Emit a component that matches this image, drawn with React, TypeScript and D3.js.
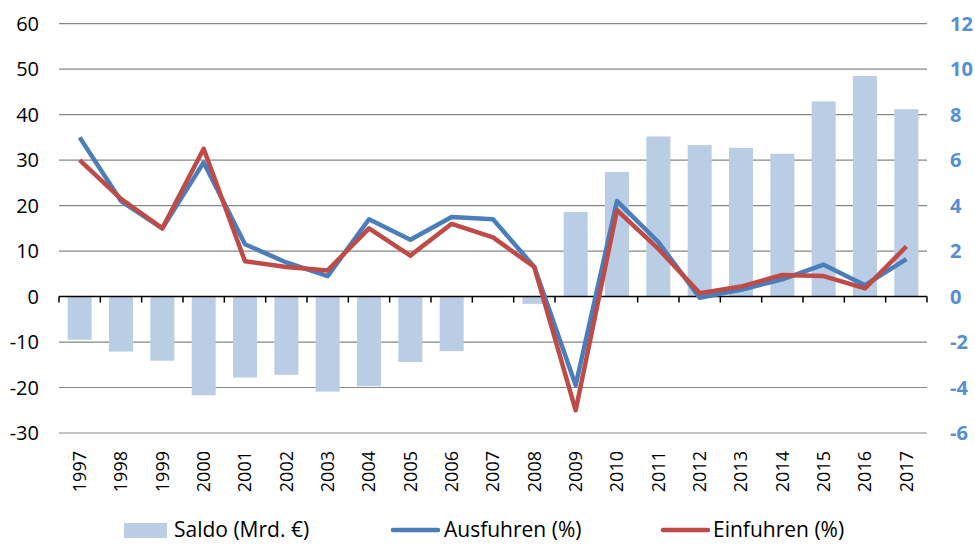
import React from 'react';
import * as d3 from 'd3';

const years = ['1997','1998','1999','2000','2001','2002','2003','2004','2005','2006','2007','2008','2009','2010','2011','2012','2013','2014','2015','2016','2017'];
const saldo = [-9.5,-12.1,-14.1,-21.7,-17.8,-17.2,-20.9,-19.7,-14.4,-12.0,-0.2,-1.6,18.6,27.4,35.2,33.3,32.7,31.4,42.9,48.5,41.2];
const ausfuhren = [7.0,4.2,3.0,5.9,2.3,1.5,0.9,3.4,2.5,3.5,3.4,1.3,-3.9,4.2,2.4,-0.05,0.3,0.76,1.4,0.5,1.65];
const einfuhren = [6.0,4.3,3.0,6.5,1.55,1.3,1.15,3.0,1.8,3.2,2.6,1.3,-5.0,3.8,2.1,0.15,0.44,0.95,0.9,0.36,2.2];
const leftTicks = [-30,-20,-10,0,10,20,30,40,50,60];
const rightTicks = [-6,-4,-2,0,2,4,6,8,10,12];

const W = 975, H = 545;
const x0 = 59, x1 = 927, yTop = 23.7, yBot = 433;
const font = '"Open Sans", "Noto Sans", sans-serif';

const App = () => {
    const x = d3.scaleBand().domain(years).range([x0, x1]).paddingInner(0.42).paddingOuter(0.21);
    const yL = d3.scaleLinear().domain([-30, 60]).range([yBot, yTop]);
    const yR = d3.scaleLinear().domain([-6, 12]).range([yBot, yTop]);
    const cx = (y) => (x(y) || 0) + x.bandwidth() / 2;

    const line = (vals) => d3.line().x((d, i) => cx(years[i])).y((d) => yR(d))(vals);

    const boundaries = d3.range(years.length + 1).map((i) => x0 + i * ((x1 - x0) / years.length));
    const ly = 530;

    return (
        <svg width={W} height={H} style={{ position: 'absolute', left: 0, top: 0, background: '#fff' }}>
            {leftTicks.filter((t) => t !== 0).map((t) => (
                <line key={'g' + t} x1={x0} x2={x1} y1={yL(t)} y2={yL(t)} stroke="#868686" strokeWidth={1.2} />
            ))}
            {saldo.map((v, i) => (
                <rect key={'b' + i} x={x(years[i])} width={x.bandwidth()}
                    y={Math.min(yL(v), yL(0))} height={Math.abs(yL(v) - yL(0))} fill="#b9cde5" />
            ))}
            <line x1={x0} x2={x1} y1={yL(0)} y2={yL(0)} stroke="#000" strokeWidth={1.5} />
            {boundaries.map((b, i) => (
                <line key={'t' + i} x1={b} x2={b} y1={yL(0)} y2={yL(0) + 6} stroke="#000" strokeWidth={1.5} />
            ))}
            <path d={line(ausfuhren)} fill="none" stroke="#4a7ebb" strokeWidth={4.5} strokeLinejoin="round" />
            <path d={line(einfuhren)} fill="none" stroke="#be4b48" strokeWidth={4.5} strokeLinejoin="round" />
            {leftTicks.map((t) => (
                <text key={'l' + t} x={39} y={yL(t)} dy="0.35em" textAnchor="end" fontFamily={font} fontSize={20} fill="#000">{t}</text>
            ))}
            {rightTicks.map((t) => (
                <text key={'r' + t} x={950} y={yR(t)} dy="0.35em" textAnchor="start" fontFamily={font} fontSize={20} fontWeight="bold" fill="#558ed5">{t}</text>
            ))}
            {years.map((yr) => (
                <text key={'x' + yr} transform={`translate(${cx(yr)},451) rotate(-90)`} dy="0.35em" textAnchor="end"
                    fontFamily={font} fontSize={18} fill="#000">{yr}</text>
            ))}
            <g fontFamily={font} fontSize={21} fill="#000">
                <rect x={124} y={ly - 7} width={43} height={15} fill="#b9cde5" />
                <text x={174} y={ly} dy="0.35em">Saldo (Mrd. €)</text>
                <line x1={393} x2={438} y1={ly} y2={ly} stroke="#4a7ebb" strokeWidth={4.5} strokeLinecap="round" />
                <text x={444} y={ly} dy="0.35em">Ausfuhren (%)</text>
                <line x1={663} x2={708} y1={ly} y2={ly} stroke="#be4b48" strokeWidth={4.5} strokeLinecap="round" />
                <text x={713} y={ly} dy="0.35em">Einfuhren (%)</text>
            </g>
        </svg>
    );
};

export default App;
